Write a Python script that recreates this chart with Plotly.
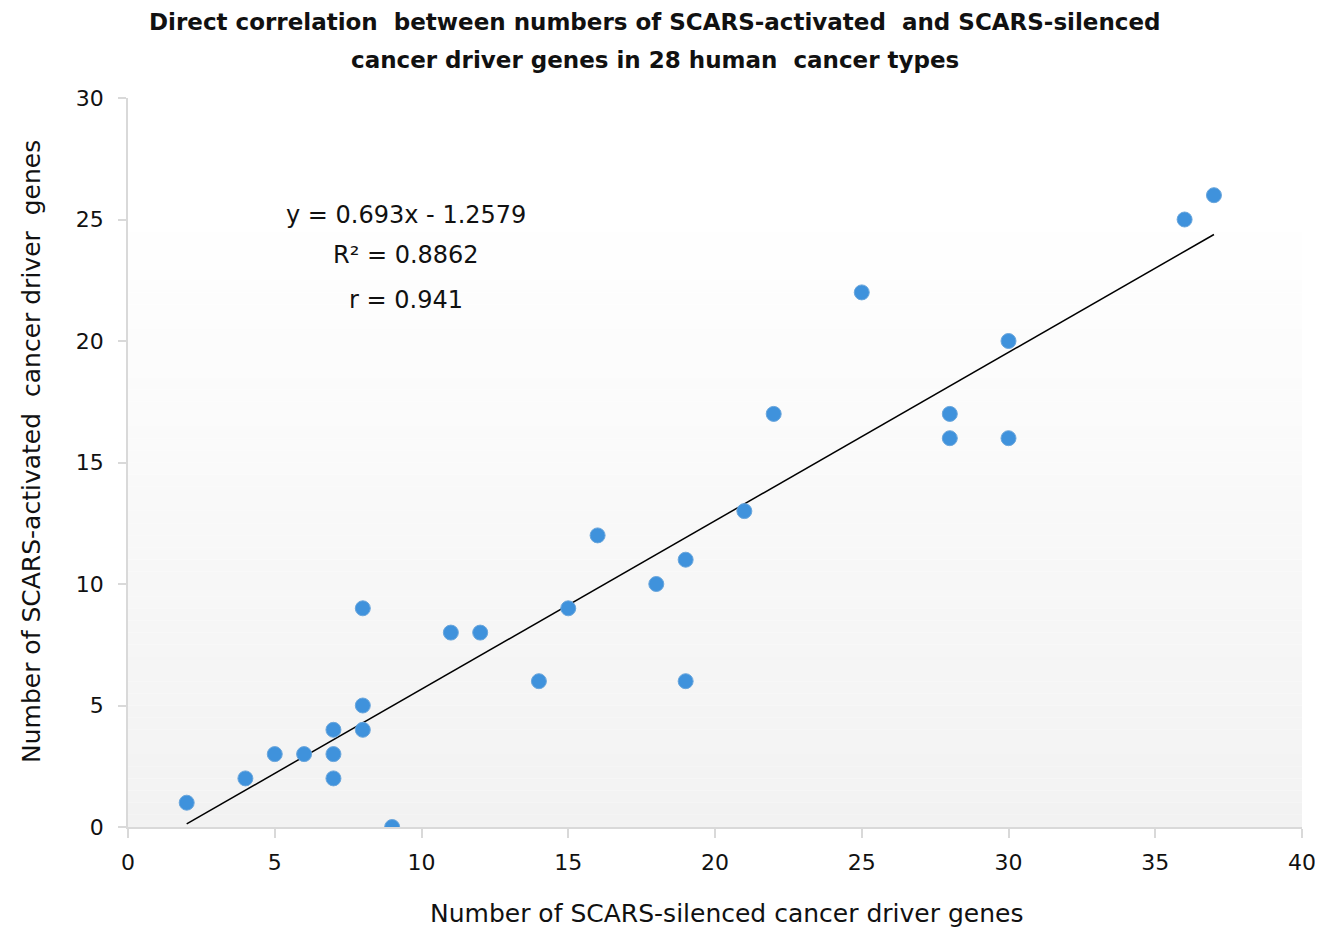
import plotly.graph_objects as go

silenced = [2, 4, 5, 6, 7, 7, 7, 8, 8, 8, 9, 11, 12, 14, 15, 16, 18, 19, 19, 21, 22, 25, 28, 28, 30, 30, 36, 37]
activated = [1, 2, 3, 3, 4, 3, 2, 5, 4, 9, 0, 8, 8, 6, 9, 12, 10, 11, 6, 13, 17, 22, 17, 16, 20, 16, 25, 26]
slope = 0.693
intercept = -1.2579
trend_x = [min(silenced), max(silenced)]
trend_y = [slope * v + intercept for v in trend_x]
x_ticks = [0, 5, 10, 15, 20, 25, 30, 35, 40]
y_ticks = [0, 5, 10, 15, 20, 25, 30]
title_lines = ["Direct correlation  between numbers of SCARS-activated  and SCARS-silenced",
               "cancer driver genes in 28 human  cancer types"]
x_title = "Number of SCARS-silenced cancer driver genes"
y_title = "Number of SCARS-activated  cancer driver  genes"
equation_lines = ["y = 0.693x - 1.2579", "R² = 0.8862", "r = 0.941"]
equation_y = [25.2, 23.55, 21.7]

FONT = "DejaVu Sans"
TXT = "#111111"

W, H = 1315, 925
L, R, T, B = 120, 21, 90, 106
PW = W - L - R
PH = H - T - B
OFF = 8  # page body offset


def px_to_paper(px, py):
    return (px - OFF - L) / PW, (H - B - (py - OFF)) / PH


fig = go.Figure()

# gradient background for plot area
n = 60
shapes = []
for i in range(n):
    t0 = i / n
    t1 = (i + 1) / n
    frac = min(1.0, (t0 + t1) / 2 / 0.85)
    c = int(round(242 + (255 - 242) * frac))
    shapes.append(dict(type="rect", xref="x domain", yref="y domain", x0=0, x1=1, y0=t0, y1=t1,
                       fillcolor=f"rgb({c},{c},{c})", line=dict(width=0), layer="below"))

fig.add_trace(go.Scatter(x=trend_x, y=trend_y, mode="lines", line=dict(color="#000000", width=1.5),
                         hoverinfo="skip", showlegend=False))
fig.add_trace(go.Scatter(x=silenced, y=activated, mode="markers",
                         marker=dict(size=15, color="#3f92dc", line=dict(color="#6aa6dc", width=1)),
                         showlegend=False))

annotations = []
for txt, py in zip(title_lines, [22, 60]):
    ax, ay = px_to_paper(655, py)
    annotations.append(dict(text=txt, x=ax, y=ay, xref="paper", yref="paper", showarrow=False,
                            xanchor="center", yanchor="middle",
                            font=dict(family=FONT, size=23, color=TXT, weight="bold")))

ax, ay = px_to_paper(726, 913)
annotations.append(dict(text=x_title, x=ax, y=ay, xref="paper", yref="paper", showarrow=False,
                        xanchor="center", yanchor="middle", font=dict(family=FONT, size=25, color=TXT)))
ax, ay = px_to_paper(31, 452)
annotations.append(dict(text=y_title, x=ax, y=ay, xref="paper", yref="paper", showarrow=False,
                        textangle=-90, xanchor="center", yanchor="middle",
                        font=dict(family=FONT, size=25, color=TXT)))

for txt, yy in zip(equation_lines, equation_y):
    annotations.append(dict(text=txt, x=0.2365, y=yy, xref="paper", yref="y", showarrow=False,
                            xanchor="center", yanchor="middle", font=dict(family=FONT, size=24, color=TXT)))

fig.update_layout(
    width=W, height=H,
    margin=dict(l=L, r=R, t=T, b=B),
    paper_bgcolor="white", plot_bgcolor="white",
    shapes=shapes,
    xaxis=dict(range=[0, 40], tickvals=x_ticks, showgrid=False, zeroline=False, automargin=False,
               showline=True, linecolor="#d9d9d9", linewidth=1.5,
               ticks="outside", ticklen=9, tickcolor="#d9d9d9", tickwidth=1.5,
               ticklabelstandoff=6, ticklabeloverflow="allow",
               tickfont=dict(family=FONT, size=22, color=TXT)),
    yaxis=dict(range=[0, 30], tickvals=y_ticks, showgrid=False, zeroline=False, automargin=False,
               showline=True, linecolor="#d9d9d9", linewidth=1.5,
               ticks="outside", ticklen=8, tickcolor="#d9d9d9", tickwidth=1.5,
               ticklabelstandoff=10, ticklabeloverflow="allow",
               tickfont=dict(family=FONT, size=22, color=TXT)),
    annotations=annotations,
)

fig.write_html("out.html")
